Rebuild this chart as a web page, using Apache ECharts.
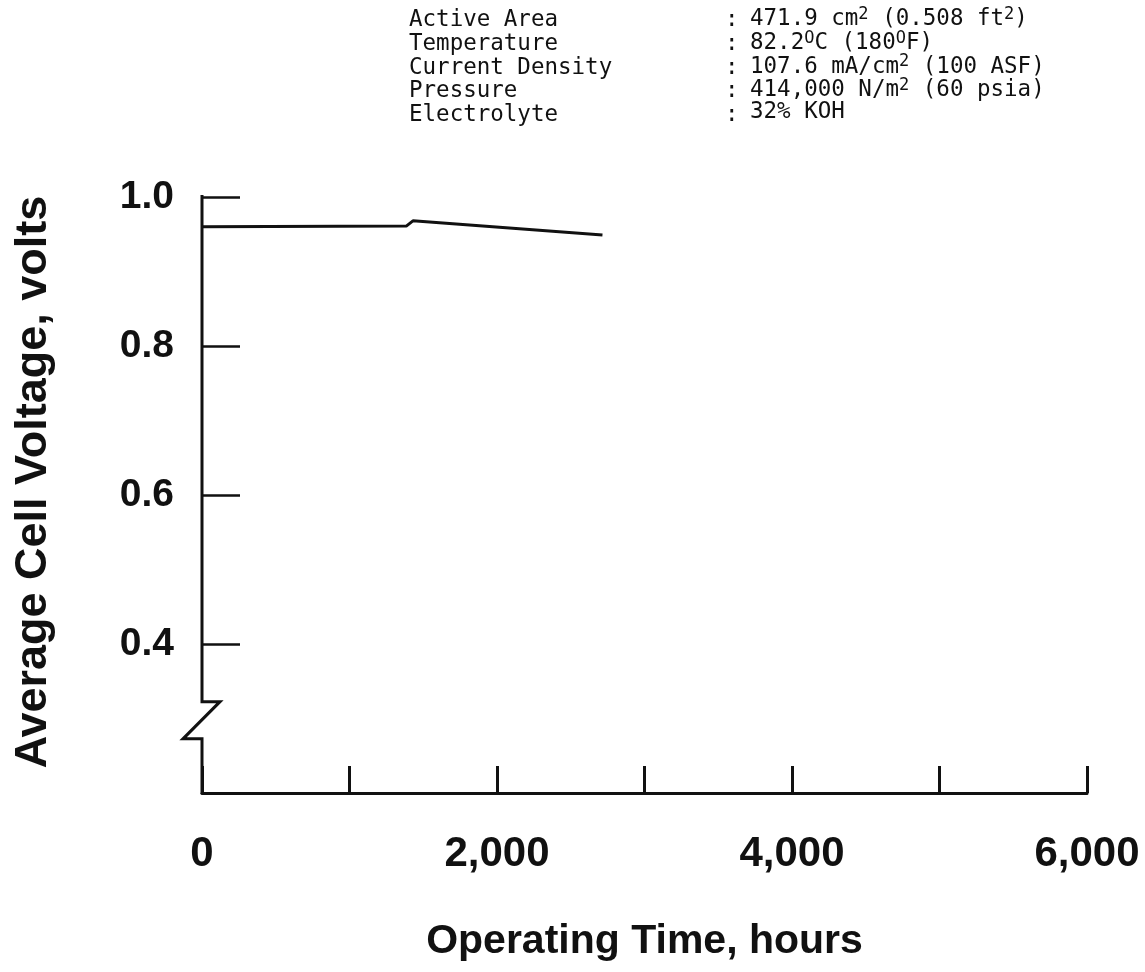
<!DOCTYPE html>
<html>
<head>
<meta charset="utf-8">
<script src="https://cdn.jsdelivr.net/npm/echarts@6/dist/echarts.min.js"></script>
<style>
html,body{margin:0;padding:0;background:#fff;}
#chart{width:1145px;height:972px;}
</style>
</head>
<body>
<div id="chart"></div>
<script>
// Data
var hours = [0, 1385, 1430, 2715];
var voltage = [0.960, 0.961, 0.968, 0.949];
var xLabelValues = [0, 2000, 4000, 6000];
var yLabelValues = [0.4, 0.6, 0.8, 1.0];
var infoLabels = ['Active Area', 'Temperature', 'Current Density', 'Pressure', 'Electrolyte'];
var infoValues = [
  '471.9 cm{s|2} (0.508 ft{s|2})',
  '82.2{s|O}C (180{s|O}F)',
  '107.6 mA/cm{s|2} (100 ASF)',
  '414,000 N/m{s|2} (60 psia)',
  '32% KOH'
];
var yBreak = [0.3226, 0.2727];

var chart = echarts.init(document.getElementById('chart'));
var INK = '#111';
var boldFont = 'Liberation Sans';

function fmtThousands(v) {
  return String(v).replace(/\B(?=(\d{3})+(?!\d))/g, ',');
}

var option = {
  backgroundColor: '#fff',
  animation: false,
  grid: {left: 202, right: 58, top: 197, bottom: 179, containLabel: false, outerBoundsMode: 'none'},
  xAxis: {
    type: 'value', min: 0, max: 6000, interval: 1000,
    axisLine: {show: true, onZero: false, lineStyle: {color: INK, width: 3}},
    axisTick: {show: true, inside: true, length: 27, lineStyle: {color: INK, width: 3}},
    splitLine: {show: false},
    axisLabel: {
      margin: 40, color: INK, fontFamily: boldFont, fontWeight: 'bold', fontSize: 42,
      formatter: function (v) { return xLabelValues.indexOf(v) >= 0 ? fmtThousands(v) : ''; }
    },
    name: 'Operating Time, hours', nameLocation: 'middle', nameGap: 128,
    nameTextStyle: {color: INK, fontFamily: boldFont, fontWeight: 'bold', fontSize: 41}
  },
  yAxis: {
    type: 'value', min: 0.2, max: 1.0, interval: 0.2,
    axisLine: {show: false},
    axisTick: {show: true, inside: true, length: 38, lineStyle: {color: INK, width: 2.5}},
    splitLine: {show: false},
    axisLabel: {
      margin: 28, color: INK, fontFamily: boldFont, fontWeight: 'bold', fontSize: 39,
      formatter: function (v) {
        for (var i = 0; i < yLabelValues.length; i++) {
          if (Math.abs(v - yLabelValues[i]) < 1e-6) return yLabelValues[i].toFixed(1);
        }
        return '';
      }
    },
    name: 'Average Cell Voltage, volts', nameLocation: 'middle', nameGap: 146,
    nameTextStyle: {color: INK, fontFamily: boldFont, fontWeight: 'bold', fontSize: 45, padding: [0, 0, 0, 26]}
  },
  series: [{
    type: 'line',
    data: hours.map(function (h, i) { return [h, voltage[i]]; }),
    showSymbol: false, symbol: 'none', smooth: false,
    lineStyle: {color: INK, width: 3},
    z: 5
  }]
};
chart.setOption(option);

// y-axis line with the zigzag break, placed through the chart's own scales
var pTop = chart.convertToPixel({gridIndex: 0}, [0, 1.0]);
var pBottom = chart.convertToPixel({gridIndex: 0}, [0, 0.2]);
var pB1 = chart.convertToPixel({gridIndex: 0}, [0, yBreak[0]]);
var pB2 = chart.convertToPixel({gridIndex: 0}, [0, yBreak[1]]);
var ax = pTop[0];

var graphics = [{
  type: 'polyline',
  shape: {points: [
    [ax, pTop[1] - 2], [ax, pB1[1]], [ax + 18, pB1[1]], [ax - 19, pB2[1]], [ax, pB2[1]], [ax, pBottom[1] + 1]
  ]},
  style: {stroke: INK, lineWidth: 3, fill: null, lineJoin: 'miter'},
  z: 10
}];

var monoFont = 'DejaVu Sans Mono';
var fs = 22.5;
var lineY0 = 22, lineStep = 23.6;
infoLabels.forEach(function (lab, i) {
  var y = lineY0 + i * lineStep;
  graphics.push({
    type: 'text', left: 409, top: y - 13,
    style: {text: lab, font: fs + 'px "' + monoFont + '"', fill: INK}
  });
  graphics.push({
    type: 'text', left: 725, top: y - 13,
    style: {text: ':', font: fs + 'px "' + monoFont + '"', fill: INK}
  });
  graphics.push({
    type: 'text', left: 750, top: y - 16,
    style: {
      text: infoValues[i],
      font: fs + 'px "' + monoFont + '"', fill: INK,
      rich: {s: {fontSize: 17, fontFamily: monoFont, verticalAlign: 'top', padding: [0, 0, 10, 0], fill: INK}}
    }
  });
});

chart.setOption({graphic: graphics});
</script>
</body>
</html>
